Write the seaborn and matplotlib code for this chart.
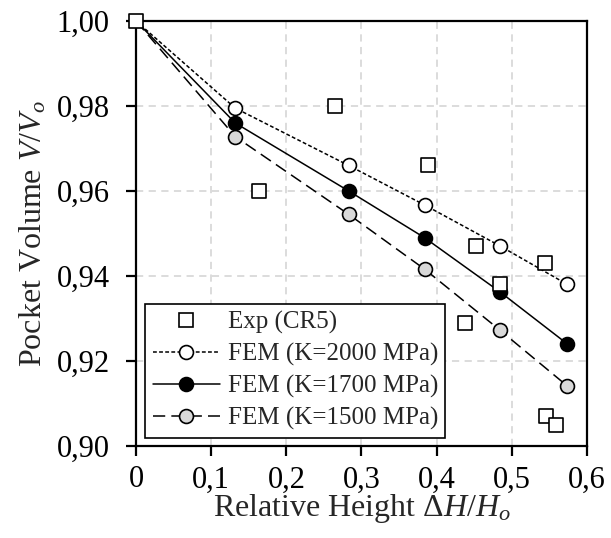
import pandas as pd
import seaborn as sns
import matplotlib.pyplot as plt
from matplotlib.ticker import FuncFormatter, MultipleLocator
from matplotlib.lines import Line2D

# Experimental points (CR5)
exp_x = [0.0, 0.164, 0.265, 0.389, 0.438, 0.452, 0.484, 0.544, 0.546, 0.559]
exp_y = [1.000, 0.960, 0.980, 0.966, 0.929, 0.947, 0.938, 0.943, 0.907, 0.905]

# FEM results
fem_x = [0.0, 0.132, 0.283, 0.384, 0.484, 0.574]
fem_k2000 = [1.000, 0.9795, 0.966, 0.9567, 0.9471, 0.938]
fem_k1700 = [1.000, 0.976, 0.960, 0.949, 0.9363, 0.924]
fem_k1500 = [1.000, 0.9728, 0.9545, 0.9416, 0.9273, 0.9141]

labels = ['Exp (CR5)', 'FEM (K=2000 MPa)', 'FEM (K=1700 MPa)', 'FEM (K=1500 MPa)']

sns.set_style('ticks')
plt.rcParams['font.family'] = ['Liberation Serif', 'DejaVu Serif']
plt.rcParams['mathtext.fontset'] = 'custom'
plt.rcParams['mathtext.rm'] = 'Liberation Serif'
plt.rcParams['mathtext.it'] = 'Liberation Serif:italic'

fig = plt.figure(figsize=(6.11, 5.38), dpi=100)
ax = fig.add_axes([0.2226, 0.171, 0.738, 0.790])

df = pd.DataFrame({'x': fem_x, 'k2000': fem_k2000, 'k1700': fem_k1700, 'k1500': fem_k1500})

styles = [
    ('k2000', 'white', (0, (2.5, 1.5))),
    ('k1700', 'black', '-'),
    ('k1500', '#d9d9d9', (0, (8, 4))),
]
handles = [Line2D([], [], ls='none', marker='s', ms=9.5, mfc='white', mec='black', mew=1.2)]
for col, fc, ls in styles:
    sns.lineplot(data=df, x='x', y=col, ax=ax, color='black', linewidth=1.1, linestyle=ls,
                 marker='o', markersize=10, markerfacecolor=fc, markeredgecolor='black',
                 markeredgewidth=1.2, markevery=list(range(1, len(fem_x))), zorder=3)
    handles.append(Line2D([], [], color='black', lw=1.1, ls=ls, marker='o', ms=10,
                          mfc=fc, mec='black', mew=1.2))

sns.scatterplot(x=exp_x, y=exp_y, ax=ax, marker='s', s=90, facecolor='white',
                edgecolor='black', linewidth=1.2, zorder=4, clip_on=False)

ax.set_xlim(0, 0.6)
ax.set_ylim(0.90, 1.00)
ax.xaxis.set_major_locator(MultipleLocator(0.1))
ax.yaxis.set_major_locator(MultipleLocator(0.02))
ax.xaxis.set_major_formatter(FuncFormatter(lambda v, p: '0' if abs(v) < 1e-9 else f'{v:.1f}'.replace('.', ',')))
ax.yaxis.set_major_formatter(FuncFormatter(lambda v, p: f'{v:.2f}'.replace('.', ',')))

ax.grid(True, color='#d9d9d9', linestyle=(0, (4, 3)), linewidth=1.3)
ax.set_axisbelow(True)
for s in ax.spines.values():
    s.set_visible(True)
    s.set_color('black')
    s.set_linewidth(1.6)
ax.tick_params(direction='out', length=7, width=1.6, labelsize=22, colors='black')
ax.tick_params(axis='x', pad=7)
ax.tick_params(axis='y', pad=12)

ax.set_xlabel(r'Relative Height $\Delta\mathit{H/H_o}$', fontsize=23, labelpad=-2)
ax.set_ylabel(r'Pocket Volume $\mathit{V/V_o}$', fontsize=23, labelpad=6)

leg = ax.legend(handles, labels, loc='lower left', bbox_to_anchor=(0.02, 0.02), fontsize=18,
                frameon=True, fancybox=False, framealpha=1, edgecolor='black',
                handlelength=2.7, handletextpad=0.3, borderpad=0.3, labelspacing=0.35,
                borderaxespad=0)
leg.get_frame().set_linewidth(1.2)

plt.savefig('out.png', dpi=100)
plt.close(fig)
